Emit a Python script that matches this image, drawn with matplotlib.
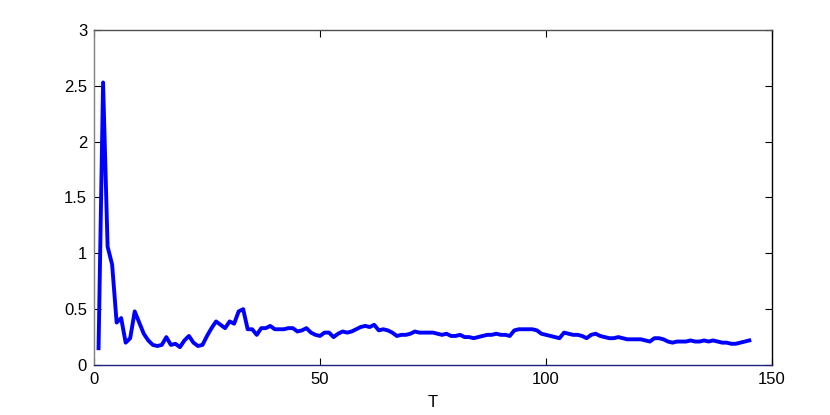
import matplotlib
matplotlib.use("Agg")
import matplotlib.pyplot as plt
from matplotlib.ticker import FuncFormatter

plt.rcParams['font.family'] = ['Liberation Sans', 'DejaVu Sans']

T = list(range(1, 146))
values = [
    0.15, 2.53, 1.06, 0.90, 0.38, 0.42, 0.20, 0.24, 0.48, 0.38,
    0.28, 0.22, 0.18, 0.17, 0.18, 0.25, 0.18, 0.19, 0.16, 0.22,
    0.26, 0.20, 0.17, 0.18, 0.26, 0.33, 0.39, 0.36, 0.33, 0.39,
    0.37, 0.48, 0.50, 0.32, 0.32, 0.27, 0.33, 0.33, 0.35, 0.32,
    0.32, 0.32, 0.33, 0.33, 0.30, 0.31, 0.33, 0.29, 0.27, 0.26,
    0.29, 0.29, 0.25, 0.28, 0.30, 0.29, 0.30, 0.32, 0.34, 0.35,
    0.34, 0.36, 0.31, 0.32, 0.31, 0.29, 0.26, 0.27, 0.27, 0.28,
    0.30, 0.29, 0.29, 0.29, 0.29, 0.28, 0.27, 0.28, 0.26, 0.26,
    0.27, 0.25, 0.25, 0.24, 0.25, 0.26, 0.27, 0.27, 0.28, 0.27,
    0.27, 0.26, 0.31, 0.32, 0.32, 0.32, 0.32, 0.31, 0.28, 0.27,
    0.26, 0.25, 0.24, 0.29, 0.28, 0.27, 0.27, 0.26, 0.24, 0.27,
    0.28, 0.26, 0.25, 0.24, 0.24, 0.25, 0.24, 0.23, 0.23, 0.23,
    0.23, 0.22, 0.21, 0.24, 0.24, 0.23, 0.21, 0.20, 0.21, 0.21,
    0.21, 0.22, 0.21, 0.21, 0.22, 0.21, 0.22, 0.21, 0.20, 0.20,
    0.19, 0.19, 0.20, 0.21, 0.22,
]
xticks = [0, 50, 100, 150]
yticks = [0, 0.5, 1, 1.5, 2, 2.5, 3]

fig = plt.figure(figsize=(8.3, 4.15), dpi=100)
ax = fig.add_axes([0.1133, 0.1205, 0.8167, 0.8072])
ax.plot(T, values, color="#0000ff", linewidth=2.8)
ax.set_xlim(0, 150)
ax.set_ylim(0, 3)
ax.set_xticks(xticks)
ax.set_yticks(yticks)
ax.yaxis.set_major_formatter(FuncFormatter(lambda v, p: "%g" % v))
ax.tick_params(direction="in", top=True, right=True, labelsize=12, length=5, width=0.8, pad=5)
spine_colors = {"left": "#808080", "top": "#505050", "right": "#000000", "bottom": "#202080"}
for k, s in ax.spines.items():
    s.set_linewidth(1.0)
    s.set_color(spine_colors[k])
ax.set_xlabel("T", fontsize=12, labelpad=6)
fig.savefig("out.png", dpi=100)
